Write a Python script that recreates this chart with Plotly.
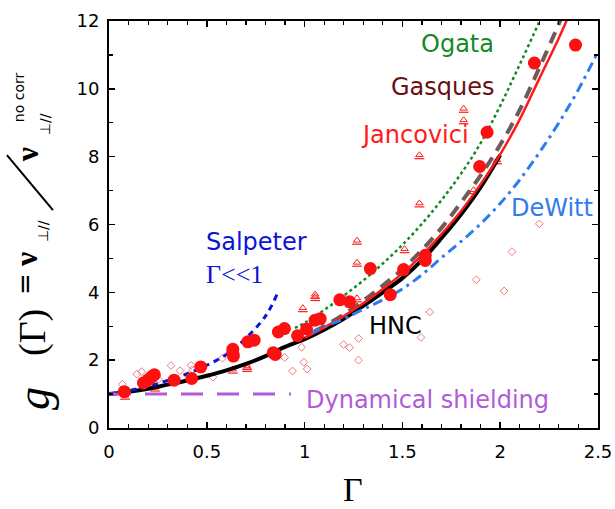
import plotly.graph_objects as go

# ---------------- data ----------------
hnc_x = [0, 0.1, 0.2, 0.3, 0.4, 0.5, 0.6, 0.7, 0.8, 0.9, 1.0, 1.1, 1.2, 1.3, 1.4, 1.5, 1.6, 1.7, 1.8, 1.9, 2.0]
hnc_y = [1.0, 1.07, 1.16, 1.28, 1.40, 1.54, 1.70, 1.89, 2.12, 2.39, 2.62, 2.90, 3.22, 3.60, 4.00, 4.42, 4.95, 5.60, 6.30, 7.10, 8.05]

janc_x = [1.0, 1.1, 1.2, 1.3, 1.4, 1.5, 1.6, 1.7, 1.8, 1.9, 2.0, 2.1, 2.2, 2.3, 2.35]
janc_y = [2.66, 2.96, 3.30, 3.68, 4.10, 4.56, 5.10, 5.72, 6.40, 7.19, 8.07, 9.10, 10.30, 11.50, 12.15]

gasq_x = [1.05, 1.1, 1.2, 1.3, 1.4, 1.5, 1.6, 1.7, 1.8, 1.9, 2.0, 2.1, 2.2, 2.3, 2.35]
gasq_y = [2.85, 3.00, 3.35, 3.75, 4.20, 4.68, 5.25, 5.90, 6.65, 7.45, 8.35, 9.38, 10.62, 11.92, 12.65]

ogata_x = [0.95, 1.0, 1.1, 1.2, 1.3, 1.4, 1.5, 1.6, 1.7, 1.8, 1.9, 2.0, 2.1, 2.2, 2.25]
ogata_y = [2.95, 3.10, 3.48, 3.90, 4.35, 4.85, 5.40, 6.02, 6.72, 7.50, 8.40, 9.50, 10.72, 11.98, 12.65]

dewitt_x = [1.03, 1.1, 1.2, 1.3, 1.4, 1.5, 1.6, 1.7, 1.8, 1.9, 2.0, 2.1, 2.2, 2.3, 2.4, 2.5]
dewitt_y = [2.80, 2.98, 3.22, 3.50, 3.78, 4.10, 4.52, 5.02, 5.50, 6.02, 6.62, 7.32, 8.12, 9.00, 9.98, 11.10]

salp_x = [0, 0.1, 0.2, 0.3, 0.4, 0.5, 0.6, 0.7, 0.8, 0.86]
salp_y = [1.0, 1.10, 1.23, 1.40, 1.60, 1.85, 2.17, 2.65, 3.30, 3.95]

dyn_x = [0, 0.93]
dyn_y = [1.0, 1.0]

circ_x = [0.078, 0.176, 0.2, 0.218, 0.232, 0.333, 0.423, 0.469, 0.633, 0.633, 0.636, 0.71, 0.742,
          0.84, 0.85, 0.866, 0.897, 0.964, 1.01, 1.054, 1.08, 1.18, 1.23, 1.336, 1.438, 1.506,
          1.617, 1.617, 1.895, 1.933, 2.175, 2.385]
circ_y = [1.07, 1.33, 1.42, 1.51, 1.57, 1.41, 1.46, 1.80, 2.32, 2.22, 2.12, 2.54, 2.59,
          2.22, 2.17, 2.83, 2.93, 2.72, 2.92, 3.18, 3.22, 3.78, 3.72, 4.70, 3.93, 4.67,
          5.09, 4.94, 7.71, 8.72, 10.76, 11.29]

tri_x = [0.082, 0.235, 0.633, 0.706, 0.706, 0.991, 1.054, 1.054, 1.268, 1.268, 1.268, 1.511,
         1.587, 1.587, 1.813, 1.813, 1.864, 1.984]
tri_y = [0.96, 1.20, 1.73, 1.78, 1.84, 3.54, 3.87, 3.94, 3.83, 4.88, 5.53, 5.28,
         6.63, 8.05, 9.08, 9.42, 7.02, 7.90]
tri_low = [0.11] * len(tri_x)  # lower bar under each triangle

dia_x = [0.068, 0.142, 0.167, 0.254, 0.317, 0.363, 0.42, 0.427, 0.531, 0.58, 0.898, 0.938,
         0.985, 0.996, 1.013, 1.199, 1.23, 1.276, 1.276, 1.595, 1.64, 1.878, 2.02, 2.06, 2.2]
dia_y = [1.29, 1.59, 1.66, 1.44, 1.84, 1.69, 1.85, 1.72, 1.50, 2.06, 2.08, 1.68,
         2.38, 1.94, 1.74, 2.46, 2.37, 2.64, 2.00, 2.67, 3.42, 4.37, 4.04, 5.20, 6.02]

x_ticks = [0, 0.5, 1, 1.5, 2, 2.5]
x_tick_labels = ["0", "0.5", "1", "1.5", "2", "2.5"]
y_ticks = [0, 2, 4, 6, 8, 10, 12]
y_tick_labels = ["0", "2", "4", "6", "8", "10", "12"]

SANS = "DejaVu Sans"
SERIF = "Liberation Serif"

# ---------------- figure ----------------
fig = go.Figure()

fig.add_trace(go.Scatter(x=dia_x, y=dia_y, mode="markers",
                         marker=dict(symbol="diamond-open", size=6, color="#f07a7a",
                                     line=dict(width=1, color="#f07a7a"))))
fig.add_trace(go.Scatter(x=tri_x, y=tri_y, mode="markers",
                         marker=dict(symbol="triangle-up-open", size=6.5, color="#ff1a1a",
                                     line=dict(width=1, color="#ff1a1a"))))
fig.add_trace(go.Scatter(x=tri_x, y=[v - d for v, d in zip(tri_y, tri_low)], mode="markers",
                         marker=dict(symbol="line-ew-open", size=7, color="#ff1a1a",
                                     line=dict(width=1.2, color="#ff1a1a"))))

fig.add_trace(go.Scatter(x=hnc_x, y=hnc_y, mode="lines", line_shape="spline",
                         line=dict(color="black", width=4)))
fig.add_trace(go.Scatter(x=gasq_x, y=gasq_y, mode="lines", line_shape="spline",
                         line=dict(color="#6e5a5a", width=4, dash="12px,8px")))
fig.add_trace(go.Scatter(x=janc_x, y=janc_y, mode="lines", line_shape="spline",
                         line=dict(color="#ff1a1a", width=2.5)))
fig.add_trace(go.Scatter(x=ogata_x, y=ogata_y, mode="lines", line_shape="spline",
                         line=dict(color="#128a25", width=2.5, dash="dot")))
fig.add_trace(go.Scatter(x=dewitt_x, y=dewitt_y, mode="lines", line_shape="spline",
                         line=dict(color="#2f7cf0", width=3, dash="10px,5px,3px,5px")))
fig.add_trace(go.Scatter(x=salp_x, y=salp_y, mode="lines", line_shape="spline",
                         line=dict(color="#0c14d8", width=3, dash="6px,5px")))
fig.add_trace(go.Scatter(x=dyn_x, y=dyn_y, mode="lines",
                         line=dict(color="#b25ad8", width=3, dash="22px,14px")))

fig.add_trace(go.Scatter(x=circ_x, y=circ_y, mode="markers",
                         marker=dict(symbol="circle", size=13, color="#ff1010",
                                     line=dict(width=0))))

axis_common = dict(showline=True, linecolor="black", linewidth=2, mirror="allticks",
                   ticks="inside", ticklen=6, tickwidth=1.5, tickcolor="black",
                   showgrid=False, zeroline=False, automargin=False,
                   tickfont=dict(family=SANS, size=18, color="black"))

fig.update_xaxes(range=[0, 2.5], tickvals=x_ticks, ticktext=x_tick_labels,
                 ticklabelstandoff=6,
                 minor=dict(dtick=0.1, ticks="inside", ticklen=4, tickwidth=1.2, tickcolor="black"),
                 **axis_common)
fig.update_yaxes(range=[0, 12], tickvals=y_ticks, ticktext=y_tick_labels,
                 ticklabelstandoff=4,
                 minor=dict(dtick=1, ticks="inside", ticklen=4, tickwidth=1.2, tickcolor="black"),
                 **axis_common)

ann = []
def lab(text, x, y, color, size=24, family=SANS):
    ann.append(dict(text=text, x=x, y=y, xref="x", yref="y", showarrow=False,
                    font=dict(family=family, size=size, color=color),
                    xanchor="center", yanchor="middle"))

def px2d(px, py):
    return ((px - 109) / 195.5, (428 - py) / 34.0)

lab("Ogata", *px2d(457, 43), "#128a25")
lab("Gasques", *px2d(443, 86), "#6b1010")
lab("Jancovici", *px2d(415, 134), "#ff1a1a")
lab("DeWitt", *px2d(552, 207), "#2f7cf0")
lab("Salpeter", *px2d(256, 242), "#0c14d8")
lab("Γ&lt;&lt;1", *px2d(234, 274), "#0c14d8", size=26, family=SERIF)
lab("HNC", *px2d(395, 326), "black")
lab("Dynamical shielding", *px2d(427, 400), "#b25ad8")

def pp(px, py):
    return ((px - 109) / 488.7, (428 - py) / 407.3)

def ylab(text, px, py, size, family=SANS, color="black"):
    x, y = pp(px, py)
    ann.append(dict(text=text, x=x, y=y, xref="paper", yref="paper", showarrow=False,
                    textangle=-90, font=dict(family=family, size=size, color=color),
                    xanchor="center", yanchor="middle"))

ylab("<i>g</i>", 33, 398, 46, family=SERIF)
ylab("(Γ)", 32, 332, 38, family=SERIF)
ylab("=", 25, 284, 26)
ylab("<b>ν</b>", 26, 259, 32, family=SERIF)
ylab("⊥//", 43, 231, 14)
ylab("<b>ν</b>", 27, 154, 32, family=SERIF)
ylab("⊥//", 45, 124, 14)
ylab("no corr", 19, 97, 14)

x0, y0 = pp(53, 210)
x1, y1 = pp(7, 155)
shapes = [dict(type="line", xref="paper", yref="paper", x0=x0, y0=y0, x1=x1, y1=y1,
               line=dict(color="black", width=2))]

ann.append(dict(text="Γ", x=pp(353, 0)[0], y=pp(0, 490)[1], xref="paper", yref="paper",
                showarrow=False, font=dict(family=SERIF, size=34, color="black"),
                xanchor="center", yanchor="middle", borderpad=0))

fig.update_layout(template="none", width=615, height=509,
                  margin=dict(l=109, r=17, t=21, b=81, autoexpand=False),
                  paper_bgcolor="white", plot_bgcolor="white", showlegend=False,
                  annotations=ann, shapes=shapes)

fig.write_html("out.html", config={"displayModeBar": False, "staticPlot": True},
               post_script="document.body.style.margin='0px';document.body.style.padding='0px';")
